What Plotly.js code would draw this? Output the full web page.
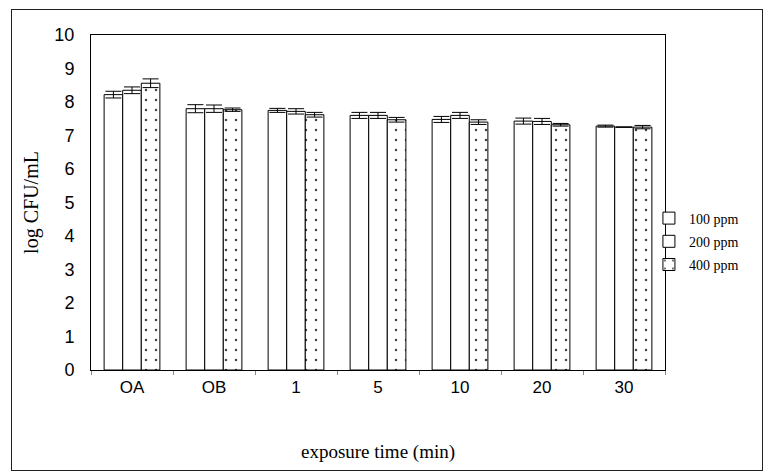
<!DOCTYPE html>
<html>
<head>
<meta charset="utf-8">
<script src="https://cdn.plot.ly/plotly-3.0.1.min.js"></script>
<style>
  html, body { margin: 0; padding: 0; background: #fff; }
  #wrap { position: relative; width: 768px; height: 473px; }
  #chart { width: 768px; height: 473px; }
  #frame { position: absolute; left: 11px; top: 9px; width: 750px; height: 460px; border: 1px solid #222; pointer-events: none; }
</style>
</head>
<body>
<div id="wrap">
  <div id="chart"></div>
  <div id="frame"></div>
</div>
<script>
const categories = ['OA', 'OB', '1', '5', '10', '20', '30'];
const seriesNames = ['100 ppm', '200 ppm', '400 ppm'];
const values100 = [8.22, 7.80, 7.75, 7.60, 7.48, 7.43, 7.28];
const values200 = [8.35, 7.80, 7.72, 7.60, 7.60, 7.42, 7.25];
const values400 = [8.56, 7.77, 7.62, 7.47, 7.40, 7.32, 7.25];
const err100 = [0.10, 0.12, 0.06, 0.09, 0.09, 0.09, 0.03];
const err200 = [0.10, 0.11, 0.08, 0.09, 0.09, 0.09, 0.0];
const err400 = [0.13, 0.05, 0.07, 0.07, 0.07, 0.04, 0.05];
const yTicks = [0, 1, 2, 3, 4, 5, 6, 7, 8, 9, 10];

function barTrace(name, vals, errs, dotted, group) {
  const marker = { color: '#ffffff', line: { color: '#000000', width: 1 } };
  if (dotted) {
    marker.pattern = { shape: '.', fgcolor: '#444444', bgcolor: '#ffffff', size: 10, solidity: 0.05 };
  }
  return {
    type: 'bar', name: name, x: categories, y: vals,
    legendgroup: group,
    marker: marker,
    error_y: { type: 'data', array: errs, visible: true, color: '#000000', thickness: 1, width: 8 }
  };
}

const data = [
  barTrace(seriesNames[0], values100, err100, false, 'a'),
  barTrace(seriesNames[1], values200, err200, false, 'b'),
  barTrace(seriesNames[2], values400, err400, true, 'c')
];

const layout = {
  width: 768, height: 473,
  margin: { l: 91, r: 103, t: 35, b: 103, pad: 0 },
  paper_bgcolor: '#ffffff', plot_bgcolor: '#ffffff',
  barmode: 'group', bargap: 0.32, bargroupgap: 0,
  showlegend: true,
  legend: {
    x: 0.972, xanchor: 'left', y: 0.50, yanchor: 'top',
    font: { family: 'Liberation Serif, Times New Roman, serif', size: 14, color: '#000' },
    traceorder: 'grouped', tracegroupgap: 2,
    itemwidth: 30, bgcolor: 'rgba(0,0,0,0)'
  },
  xaxis: {
    type: 'category',
    showline: true, linecolor: '#000', linewidth: 1, mirror: true,
    ticks: 'outside', tickson: 'boundaries', ticklen: 4, tickcolor: '#888',
    ticklabelstandoff: 2,
    tickfont: { family: 'Liberation Sans, Arial, sans-serif', size: 17, color: '#000' },
    title: { text: 'exposure time (min)', font: { family: 'Liberation Serif, Times New Roman, serif', size: 19, color: '#000' }, standoff: 48 },
    automargin: false, showgrid: false, zeroline: false
  },
  yaxis: {
    range: [0, 10], tickvals: yTicks, ticktext: yTicks.map(String),
    showline: true, linecolor: '#000', linewidth: 1, mirror: true,
    ticks: '', showgrid: false, zeroline: false,
    tickfont: { family: 'Liberation Sans, Arial, sans-serif', size: 18, color: '#000' },
    ticklabelstandoff: 12,
    title: { text: 'log CFU/mL', font: { family: 'Liberation Serif, Times New Roman, serif', size: 20, color: '#000' }, standoff: 10 },
    automargin: false
  }
};

Plotly.newPlot('chart', data, layout, { displayModeBar: false, staticPlot: true });
</script>
</body>
</html>
